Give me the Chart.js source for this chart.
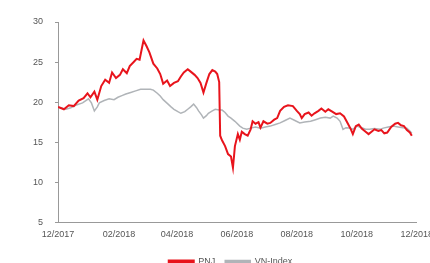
<!DOCTYPE html>
<html>
<head>
<meta charset="utf-8">
<script src="https://cdn.jsdelivr.net/npm/chart.js@4"></script>
<style>
  html, body { margin: 0; padding: 0; background: #fff; overflow: hidden; width: 430px; height: 263px; }
  canvas { display: block; }
</style>
</head>
<body>
<canvas id="c" width="440" height="276"></canvas>
<script>
// Days since 01/12/2017
const pnjDays = [0,6,11,16,21,26,30,33,37,40,44,48,52,55,59,63,66,70,73,77,80,83,85,87,90,93,97,101,104,107,111,114,118,122,125,128,132,135,139,142,145,148,151,154,157,160,162,164,165,167,170,173,176,178,180,183,185,187,190,193,196,198,201,204,206,209,213,216,220,223,226,230,234,239,243,246,248,251,255,258,261,265,268,272,275,279,283,287,291,295,298,300,303,306,309,313,316,319,322,326,329,332,335,339,343,346,349,352,355,358,360];
const pnjValues = [19.4,19.1,19.6,19.5,20.2,20.5,21.1,20.6,21.3,20.3,22.0,22.8,22.4,23.7,23.0,23.4,24.1,23.6,24.5,25.0,25.4,25.3,26.5,27.7,27.0,26.2,24.8,24.2,23.5,22.3,22.7,22.0,22.4,22.6,23.2,23.7,24.1,23.8,23.4,23.0,22.4,21.2,22.4,23.5,24.0,23.8,23.5,22.5,15.8,15.2,14.5,13.5,13.2,11.8,14.5,16.0,15.3,16.3,16.0,15.8,16.6,17.6,17.3,17.5,16.8,17.6,17.3,17.4,17.8,18.0,18.9,19.4,19.6,19.5,18.9,18.5,18.0,18.5,18.7,18.3,18.6,18.9,19.2,18.8,19.1,18.8,18.5,18.6,18.2,17.3,16.6,16.0,17.0,17.2,16.7,16.3,16.0,16.3,16.6,16.4,16.5,16.1,16.2,16.9,17.3,17.4,17.1,17.0,16.5,16.2,15.8];
const vniDays = [0,8,13,18,25,31,34,37,40,42,47,52,57,61,65,69,74,79,84,89,94,97,101,104,107,112,115,118,122,125,129,132,135,138,141,143,146,148,151,153,157,160,164,167,170,173,176,180,185,188,192,196,201,206,211,216,221,226,231,236,241,246,251,257,262,267,272,277,280,284,287,290,293,297,300,304,309,313,317,322,328,331,336,341,346,351,355,358,360];
const vniValues = [19.4,19.1,19.3,19.6,19.9,20.4,19.9,18.9,19.4,19.9,20.2,20.4,20.3,20.6,20.8,21.0,21.2,21.4,21.6,21.6,21.6,21.5,21.1,20.75,20.3,19.75,19.4,19.1,18.8,18.6,18.8,19.1,19.4,19.75,19.3,18.9,18.4,18.0,18.3,18.6,18.9,19.1,19.0,19.0,18.7,18.25,18.0,17.6,17.0,16.75,16.6,16.75,16.9,16.75,16.9,17.0,17.2,17.4,17.7,18.0,17.7,17.4,17.5,17.6,17.8,18.0,18.1,18.0,18.25,18.0,17.6,16.6,16.8,16.75,16.6,17.0,16.8,16.6,16.6,16.7,16.6,16.75,16.9,17.0,16.9,16.8,16.75,16.4,16.1];
const tickDays = [0,62,121,182,243,304,365];
const tickLabels = ["12/2017","02/2018","04/2018","06/2018","08/2018","10/2018","12/2018"];
const seriesNames = ["PNJ","VN-Index"];

const toPoints = (xs, ys) => xs.map((x, i) => ({ x: x, y: ys[i] }));
const FONT = 'Liberation Sans, Arial, sans-serif';

new Chart(document.getElementById('c'), {
  type: 'line',
  data: {
    datasets: [
      { label: seriesNames[0], data: toPoints(pnjDays, pnjValues), borderColor: '#e8141c', backgroundColor: '#e8141c', borderWidth: 2, pointRadius: 0, tension: 0 },
      { label: seriesNames[1], data: toPoints(vniDays, vniValues), borderColor: '#b0b4b8', backgroundColor: '#b0b4b8', borderWidth: 1.5, pointRadius: 0, tension: 0 }
    ]
  },
  options: {
    responsive: false,
    animation: false,
    layout: { padding: { left: 21, top: 22, right: 0, bottom: 0 } },
    plugins: {
      tooltip: { enabled: false },
      legend: {
        position: 'bottom',
        labels: { boxWidth: 25, boxHeight: 2, padding: 10, color: '#555', font: { family: FONT, size: 9, lineHeight: 1.6 } }
      }
    },
    scales: {
      x: {
        type: 'linear', min: 0, max: 365,
        afterBuildTicks: (axis) => { axis.ticks = tickDays.map(v => ({ value: v })); },
        grid: { display: false, drawTicks: false },
        border: { color: '#999', width: 1, dash: [2, 1] },
        ticks: {
          autoSkip: false, maxRotation: 0, padding: 7, color: '#555',
          font: { family: FONT, size: 9 },
          callback: (v) => { const i = tickDays.indexOf(v); return i >= 0 ? tickLabels[i] : ''; }
        }
      },
      y: {
        min: 5, max: 30,
        ticks: { stepSize: 5, padding: 12, color: '#555', font: { family: FONT, size: 9 } },
        grid: { display: true, drawOnChartArea: false, tickLength: 3, color: '#999' },
        border: { color: '#999', width: 1 }
      }
    }
  }
});
</script>
</body>
</html>
